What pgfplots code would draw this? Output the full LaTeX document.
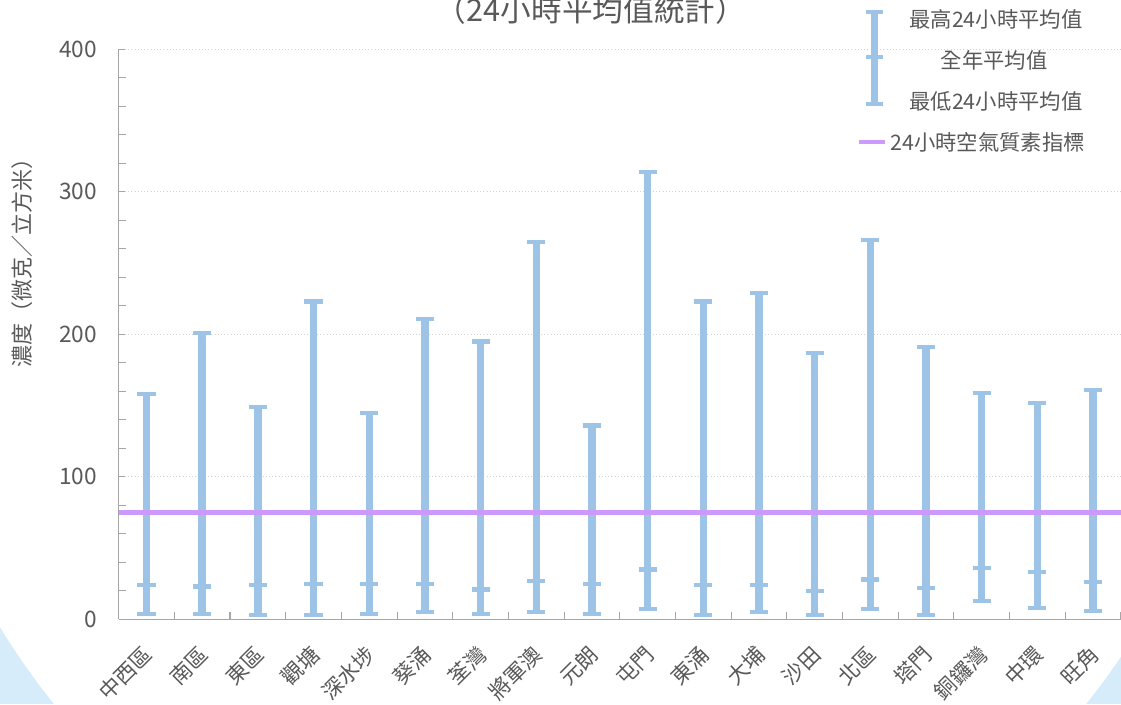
\documentclass[border=0pt]{standalone}
\usepackage{fontspec}
\setmainfont{Noto Sans CJK TC}
\usepackage{pgfplots}
\pgfplotsset{compat=1.18}
\usepackage{pgfplotstable}

\definecolor{barblue}{RGB}{157,195,230}
\definecolor{lilac}{RGB}{204,153,255}
\definecolor{txtgray}{RGB}{89,89,89}
\definecolor{axgray}{RGB}{166,166,166}
\definecolor{gridgray}{RGB}{210,210,210}
\definecolor{bgblue}{RGB}{214,236,250}

\newcommand\fs{\fontsize{16pt}{19pt}\selectfont}

% station index, highest / annual mean / lowest 24-hour value
\pgfplotstableread{
x  hi  avg lo
0  158 24  4
1  201 23  4
2  149 24  3
3  223 25  3
4  145 25  4
5  211 25  5
6  195 21  4
7  265 27  5
8  136 25  4
9  314 35  7
10 223 24  3
11 229 24  5
12 187 20  3
13 266 28  7
14 191 22  3
15 159 36  13
16 152 33  8
17 161 26  6
}\stationdata

\begin{document}
\begin{tikzpicture}
\useasboundingbox (0,0) rectangle (840.75pt,528pt);
\clip (0,0) rectangle (840.75pt,528pt);
\fill[bgblue] (0,0) rectangle (840.75pt,528pt);
\fill[white] (427.5pt,378pt) ellipse [x radius=516.4pt, y radius=570.9pt];

\node[anchor=base, text=txtgray, font=\fontsize{23pt}{27pt}\selectfont]
  at (443.25pt,512pt) {（24小時平均值統計）};

\begin{axis}[
  at={(89pt,63.5pt)}, anchor=south west,
  scale only axis, width=751.7pt, height=427.5pt,
  xmin=-0.5, xmax=17.5, ymin=0, ymax=400,
  axis x line*=bottom, axis y line*=left,
  axis line style={axgray, line width=1pt},
  xtick={0,...,17},
  xticklabels={中西區,南區,東區,觀塘,深水埗,葵涌,荃灣,將軍澳,元朗,屯門,東涌,大埔,沙田,北區,塔門,銅鑼灣,中環,旺角},
  minor xtick={0.5,1.5,...,17.5},
  ytick={0,100,...,400},
  minor y tick num=4,
  tick align=inside,
  major tick length=5pt, minor tick length=5.5pt,
  tick style={axgray, line width=0.8pt},
  major x tick style={draw=none},
  ymajorgrids,
  major grid style={gridgray, dotted, line width=0.8pt},
  /pgf/number format/assume math mode=true,
  yticklabel style={font=\fontsize{17pt}{20pt}\selectfont, text=txtgray, xshift=-12.7pt},
  xticklabel style={font=\fs, text=txtgray, inner sep=0pt, xshift=1.5pt, yshift=-23.5pt, rotate=45, anchor=east},
  ylabel={濃度（微克／立方米）},
  ylabel style={at={(axis description cs:-0.0965,0.634)}, anchor=center,
    font=\fontsize{16.5pt}{19pt}\selectfont, text=txtgray},
  legend style={at={(axis description cs:0.7366,1.0695)}, anchor=north west,
    draw=none, fill=none, inner sep=0pt, row sep=15.5pt, column sep=16.5pt,
    font=\fs, text=txtgray, nodes={inner sep=0pt}},
  legend cell align=left,
]

\addplot[forget plot, only marks, mark=-, mark size=6.8pt, color=barblue,
  mark options={line width=3.2pt},
  error bars/.cd, y dir=both, y explicit,
  error mark=|,
  error bar style={line width=5.6pt, barblue},
  error mark options={line width=3.2pt, mark size=6.8pt, barblue}]
  table[x=x, y=avg,
    y error plus expr=\thisrow{hi}-\thisrow{avg},
    y error minus expr=\thisrow{avg}-\thisrow{lo}] {\stationdata};

% 24-hour AQO limit
\addplot[forget plot, lilac, line width=3.2pt] coordinates {(-0.5,75) (17.5,75)};

\addlegendimage{legend image code/.code={
  \path (0pt,0pt) (19.5pt,0pt);
  \draw[overlay, barblue, line width=5.6pt] (11.25pt,6pt) -- (11.25pt,-63pt);
  \draw[overlay, barblue, line width=3.2pt] (4.65pt,6pt) -- (17.85pt,6pt)
    (4.65pt,-27.75pt) -- (17.85pt,-27.75pt)
    (4.65pt,-63pt) -- (17.85pt,-63pt);
}}
\addlegendentry{最高24小時平均值}
\addlegendimage{empty legend}
\addlegendentry{\hspace*{23.6pt}全年平均值}
\addlegendimage{empty legend}
\addlegendentry{最低24小時平均值}
\addlegendimage{lilac, line width=3.2pt, legend image code/.code={\draw (0pt,0pt) -- (19.5pt,0pt);}}
\addlegendentry{\hspace*{-14.25pt}24小時空氣質素指標}
\end{axis}
\end{tikzpicture}
\end{document}
